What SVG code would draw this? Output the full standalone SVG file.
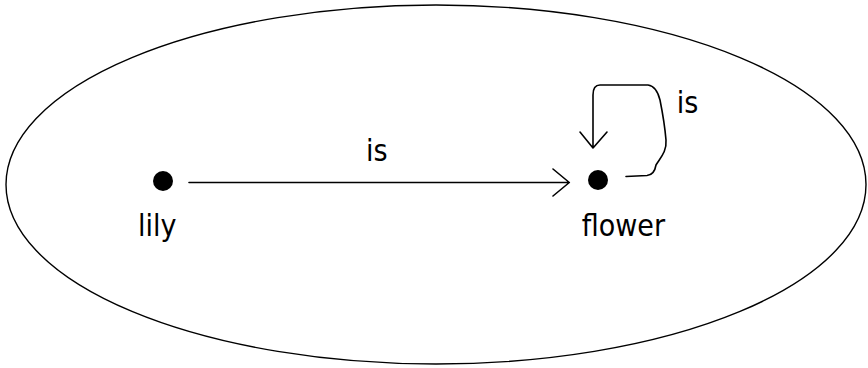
<svg xmlns="http://www.w3.org/2000/svg" width="868" height="368" viewBox="0 0 868 368">
<style>
.t{font-family:"DejaVu Sans Condensed","DejaVu Sans",sans-serif;font-size:30px;fill:#000}
.ln{fill:none;stroke:#000;stroke-width:1.6;stroke-linecap:round;stroke-linejoin:round}
</style>
<rect width="868" height="368" fill="#fff"/>
<g id="universe">
<ellipse cx="436" cy="184.5" rx="430" ry="179.5" fill="none" stroke="#000" stroke-width="1.4"/>
</g>
<g id="lily">
<circle cx="163" cy="181" r="10"/>
<text class="t" x="138" y="235.7">lily</text>
</g>
<g id="flower">
<circle cx="598" cy="180" r="10"/>
<text class="t" x="581.7" y="235.7">flower</text>
</g>
<g id="connectors">
<path class="ln" d="M189 182.5 H569 M553 169 L569.3 182.5 L553 196"/>
<text class="t" x="366" y="160.7">is</text>
<path class="ln" d="M626 176.5 L647 175.5 C653 175 655 171 656 165 C660 158 667 152 666 140 C665 128 663 115 660 100 C658 92 655 86 648 85 L600 85 C595 85 593 88 593 95 L593 148 M580 132 L593 148 L607 132"/>
<text class="t" x="676.7" y="113.3">is</text>
</g>
</svg>
